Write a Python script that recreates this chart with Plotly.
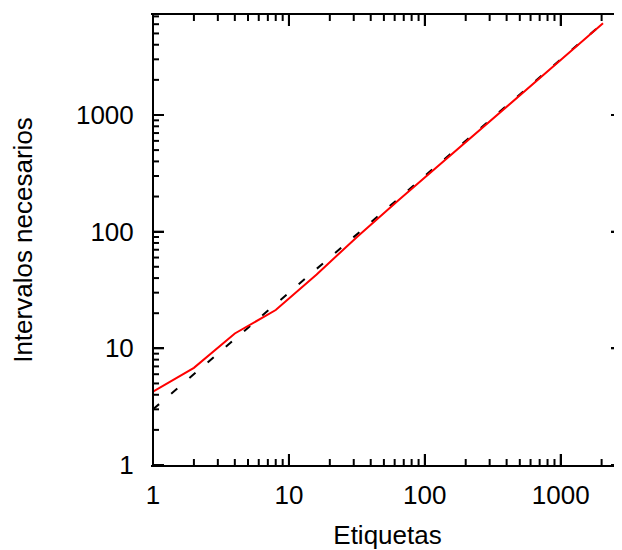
import math
import plotly.graph_objects as go

# Data
etiquetas = [1, 2, 4, 8, 16, 32, 64, 128, 256, 512, 1024, 2048]
intervalos = [4.25, 6.8, 13.4, 21.3, 43, 91, 186, 372, 745, 1500, 3030, 6110]
ref_x = [1, 2048]
ref_y = [3, 6144]

x_ticks = [1, 10, 100, 1000]
x_ticklabels = ["1", "10", "100", "1000"]
y_ticks = [1, 10, 100, 1000]
y_ticklabels = ["1", "10", "100", "1000"]

x_range = [0, 3.451]
y_range = [0, 3.857]

FONT = "Liberation Sans, Arial, Helvetica, sans-serif"
FS = 26

# plot-area size in pixels (figure 614x542 minus margins)
PW, PH = 469, 450
MAJ, MIN = 11, 6


def minor_vals(lo, hi):
    vals = []
    for d in range(int(math.floor(lo)), int(math.ceil(hi)) + 1):
        for m in range(2, 10):
            v = m * 10 ** d
            if 10 ** lo <= v <= 10 ** hi:
                vals.append(v)
    return vals


def fx(v):
    return (math.log10(v) - x_range[0]) / (x_range[1] - x_range[0])


def fy(v):
    return (math.log10(v) - y_range[0]) / (y_range[1] - y_range[0])


fig = go.Figure()
fig.add_trace(go.Scatter(
    x=ref_x, y=ref_y, mode="lines",
    line=dict(color="black", width=2, dash="8px,16px"),
    showlegend=False, hoverinfo="skip"))
fig.add_trace(go.Scatter(
    x=etiquetas, y=intervalos, mode="lines",
    line=dict(color="#ff0000", width=2),
    showlegend=False))

axis_common = dict(
    type="log", showgrid=False, zeroline=False, automargin=False,
    ticks="inside", tickwidth=2, tickcolor="black", ticklen=MAJ,
    tickfont=dict(family=FONT, size=FS, color="black"),
)

# tick marks on all four sides (inward), as in the reference frame
tick_line = dict(color="black", width=2)
shapes = [dict(type="line", xref="paper", yref="paper",
               x0=0, x1=0, y0=0, y1=1, line=dict(color="black", width=2))]
for vals, ln in ((x_ticks, MAJ), (minor_vals(*x_range), MIN)):
    for v in vals:
        f = fx(v)
        shapes.append(dict(type="line", xref="paper", yref="paper",
                           x0=f, x1=f, y0=0, y1=ln / PH, line=tick_line))
        shapes.append(dict(type="line", xref="paper", yref="paper",
                           x0=f, x1=f, y0=1, y1=1 - ln / PH, line=tick_line))
for vals, ln in ((y_ticks, MAJ), (minor_vals(*y_range), MIN)):
    for v in vals:
        f = fy(v)
        shapes.append(dict(type="line", xref="paper", yref="paper",
                           x0=0, x1=ln / PW, y0=f, y1=f, line=tick_line))
        shapes.append(dict(type="line", xref="paper", yref="paper",
                           x0=1, x1=1 - ln / PW, y0=f, y1=f, line=tick_line))

# The page body has an 8px margin, so the figure is sized to end at the window edge
fig.update_layout(
    width=614, height=542,
    margin=dict(l=145, r=0, t=7, b=85),
    paper_bgcolor="white", plot_bgcolor="white",
    font=dict(family=FONT, size=FS, color="black"),
    xaxis=dict(
        **axis_common,
        range=x_range,
        tickmode="array", tickvals=x_ticks, ticktext=x_ticklabels,
        showline=True, linecolor="black", linewidth=2, mirror="ticks",
        title=dict(text="Etiquetas", standoff=20,
                   font=dict(family=FONT, size=FS, color="black")),
        ticklabelstandoff=6,
    ),
    yaxis=dict(
        **axis_common,
        range=y_range,
        tickmode="array", tickvals=y_ticks, ticktext=y_ticklabels,
        showline=True, linecolor="rgba(0,0,0,0)", linewidth=2, mirror="ticks",
        title=dict(text="Intervalos necesarios", standoff=40,
                   font=dict(family=FONT, size=FS, color="black")),
        ticklabelstandoff=12,
    ),
    shapes=shapes,
)

fig.write_html("out.html")
